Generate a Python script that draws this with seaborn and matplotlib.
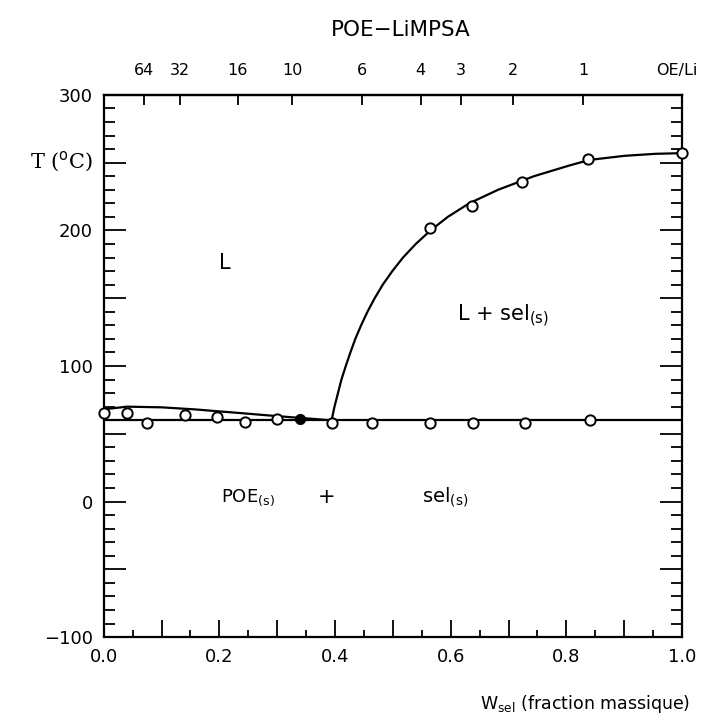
import numpy as np
import pandas as pd
import matplotlib
matplotlib.use("Agg")
import matplotlib.pyplot as plt
import seaborn as sns
from matplotlib.ticker import MultipleLocator, FuncFormatter
from matplotlib.transforms import ScaledTranslation

# ---- data ----
# measured points (open circles)
w_low = [0.0, 0.04, 0.074, 0.14, 0.195, 0.244, 0.30, 0.394, 0.464, 0.564, 0.638, 0.728, 0.841]
t_low = [65, 65, 58, 64, 62.5, 59, 61, 58, 58, 58, 58, 58, 60]
w_filled = [0.339]
t_filled = [61]
w_liq = [0.564, 0.636, 0.723, 0.838, 1.0]
t_liq = [202, 218, 236, 253, 257]

# drawn curves
w_left_curve = [0.0, 0.04, 0.10, 0.157, 0.20, 0.244, 0.30, 0.343, 0.391]
t_left_curve = [68, 70, 69.5, 68, 66.5, 65, 63, 61.6, 60]
w_right_curve = [0.394, 0.399, 0.405, 0.411, 0.4185, 0.4265, 0.435, 0.445, 0.456,
                 0.4685, 0.4825, 0.499, 0.5175, 0.5395, 0.565, 0.595, 0.632, 0.682,
                 0.744, 0.806, 0.840, 0.900, 0.954, 1.0]
t_right_curve = [60, 70, 80, 90, 100, 110, 120, 130, 140,
                 150, 160, 170, 180, 190, 200, 210, 220, 230,
                 240, 248, 252, 255, 256.5, 257]
w_eut = [0.0, 1.0]
t_eut = [60, 60]

# top axis: OE/Li ratio
top_pos = [0.070, 0.131, 0.232, 0.326, 0.447, 0.548, 0.617, 0.708, 0.829, 1.0]
top_labels = ["64", "32", "16", "10", "6", "4", "3", "2", "1", "OE/Li"]

sns.set_style("ticks")
plt.rcParams['font.family'] = ['DejaVu Sans']
for k in ["text.color", "axes.labelcolor", "xtick.color", "ytick.color", "axes.edgecolor"]:
    plt.rcParams[k] = "black"

fig = plt.figure(figsize=(7.01, 7.24), dpi=100)
ax = fig.add_axes([0.148, 0.120, 0.825, 0.749])

df_l = pd.DataFrame({"w": w_left_curve, "T": t_left_curve})
df_r = pd.DataFrame({"w": w_right_curve, "T": t_right_curve})
df_e = pd.DataFrame({"w": w_eut, "T": t_eut})
for d in (df_l, df_r, df_e):
    sns.lineplot(data=d, x="w", y="T", ax=ax, color="black", lw=1.6, sort=False,
                 solid_joinstyle="round")

df_p = pd.DataFrame({"w": w_low + w_liq, "T": t_low + t_liq})
sns.scatterplot(data=df_p, x="w", y="T", ax=ax, marker="o", s=55,
                facecolor="white", edgecolor="black", linewidth=1.4, zorder=5, clip_on=False)
sns.scatterplot(x=w_filled, y=t_filled, ax=ax, marker="o", s=55,
                color="black", edgecolor="black", zorder=5)

ax.set_xlim(0, 1)
ax.set_ylim(-100, 300)
ax.set_xlabel("")
ax.set_ylabel("")

for s in ax.spines.values():
    s.set_linewidth(1.6)
    s.set_visible(True)

ax.xaxis.set_major_locator(MultipleLocator(0.1))
ax.xaxis.set_minor_locator(MultipleLocator(0.05))
ax.xaxis.set_major_formatter(FuncFormatter(
    lambda v, p: f"{v:.1f}" if abs(round(v / 0.2) * 0.2 - v) < 1e-6 else ""))
ax.yaxis.set_major_locator(MultipleLocator(50))
ax.yaxis.set_minor_locator(MultipleLocator(10))
ax.yaxis.set_major_formatter(FuncFormatter(
    lambda v, p: f"{int(round(v))}".replace("-", "\u2212") if abs(v % 100) < 1e-6 else ""))

ax.tick_params(axis="x", which="major", direction="in", length=12, width=1.3,
               labelsize=13, pad=8, top=False)
ax.tick_params(axis="x", which="minor", direction="in", length=5, width=1.3, top=False)
ax.tick_params(axis="y", which="major", direction="in", length=16, width=1.3,
               labelsize=13, right=True, pad=8)
ax.tick_params(axis="y", which="minor", direction="in", length=8, width=1.3, right=True)

top = ax.secondary_xaxis("top")
top.set_xticks(top_pos)
top.set_xticklabels(top_labels)
top.tick_params(direction="in", length=7, width=1.3, labelsize=11.5, pad=12)
top.spines["top"].set_linewidth(1.6)
lab_last = top.get_xticklabels()[-1]
lab_last.set_transform(lab_last.get_transform() + ScaledTranslation(-4 / 72, 0, fig.dpi_scale_trans))

fig.text(0.571, 0.958, "POE\u2212LiMPSA", ha="center", va="center", fontsize=15.5)
fig.text(0.087, 0.776, "T ($^{\\rm o}$C)", ha="center", va="center", fontsize=15,
         family="DejaVu Serif")
fig.text(0.985, 0.028, "W$_{\\rm sel}$ (fraction massique)", ha="right", va="center",
         fontsize=12.5)

ax.text(0.21, 176, "L", fontsize=15, ha="center", va="center")
ax.text(0.69, 137, "L + sel$_{\\rm (s)}$", fontsize=15, ha="center", va="center")
ax.text(0.25, 3, "POE$_{\\rm (s)}$", fontsize=13, ha="center", va="center")
ax.text(0.385, 3, "+", fontsize=15, ha="center", va="center")
ax.text(0.59, 3, "sel$_{\\rm (s)}$", fontsize=14, ha="center", va="center")

fig.savefig("out.png", dpi=100, facecolor="white")
